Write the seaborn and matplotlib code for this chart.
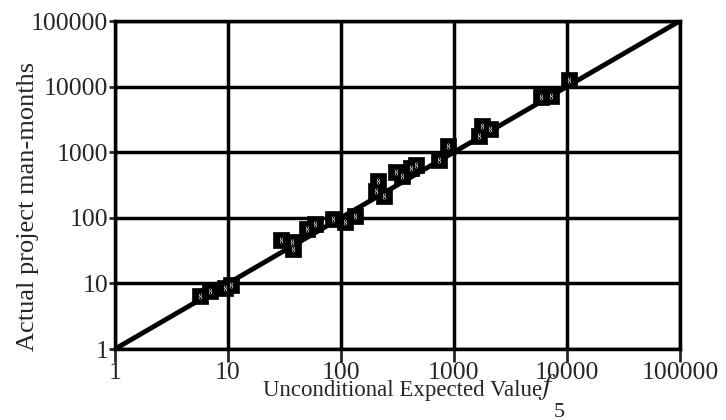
import numpy as np
import pandas as pd
import seaborn as sns
import matplotlib.pyplot as plt
from matplotlib.ticker import FixedLocator, NullLocator

# data
expected = [5.6, 7.0, 9.5, 10.6,
            29.5, 37, 38, 50, 59, 85, 108, 133,
            211, 204, 242, 308, 348, 419, 464, 735, 878,
            1780, 1668, 2100, 5900, 7200, 10500]
actual = [6.5, 7.6, 8.6, 9.3,
          46, 43, 34, 68, 81, 97, 86, 108,
          360, 255, 215, 508, 438, 571, 640, 760, 1230,
          2530, 1795, 2260, 7000, 7100, 12500]
line_x = [1, 100000]
line_y = [1, 100000]
ticks = [1, 10, 100, 1000, 10000, 100000]
tick_labels = ["1", "10", "100", "1000", "10000", "100000"]

df = pd.DataFrame({"expected": expected, "actual": actual})
df_line = pd.DataFrame({"x": line_x, "y": line_y})

sns.set_style("white")
plt.rcParams['font.family'] = ['Liberation Serif', 'DejaVu Serif']
plt.rcParams['mathtext.fontset'] = 'stix'

fig = plt.figure(figsize=(7.26, 4.2), dpi=100)
ax = fig.add_axes([0.1584, 0.169, 0.778, 0.781])

# diagonal line
sns.lineplot(data=df_line, x="x", y="y", color="black", linewidth=3.5, ax=ax, zorder=3)

# projects
sns.scatterplot(data=df, x="expected", y="actual", marker="s", s=135,
                color="black", edgecolor="black", linewidth=0.5, ax=ax, zorder=4)
sns.scatterplot(data=df, x="expected", y="actual", marker="$8$", s=18,
                color="white", edgecolor="white", linewidth=0, ax=ax, zorder=5)

ax.set_xscale("log")
ax.set_yscale("log")
ax.set_xlim(1, 100000)
ax.set_ylim(1, 100000)

ax.xaxis.set_major_locator(FixedLocator(ticks))
ax.yaxis.set_major_locator(FixedLocator(ticks))
ax.xaxis.set_minor_locator(NullLocator())
ax.yaxis.set_minor_locator(NullLocator())
ax.set_xticklabels(tick_labels, fontsize=18.5)
ax.set_yticklabels(tick_labels, fontsize=18.5)
ax.tick_params(axis="x", direction="out", length=9, width=2, pad=0, bottom=True)
ax.tick_params(axis="y", direction="out", length=4, width=2, pad=1, left=True)

ax.grid(True, which="major", color="black", linewidth=2.5)
for sp in ax.spines.values():
    sp.set_color("black")
    sp.set_linewidth(2.5)

ax.set_ylabel("Actual project man-months", fontsize=19)
ax.yaxis.set_label_coords(-0.135, 0.436)
ax.set_xlabel("Unconditional Expected Value", fontsize=16.5)
ax.xaxis.set_label_coords(0.51, -0.093)

# f_5 drawn beside the label, as in the reference
fig.text(0.741, 0.062, r"$f$", fontsize=21, ha="left", va="baseline")
fig.text(0.762, 0.006, "5", fontsize=16, ha="left", va="baseline")
fig.text(0.474, -0.018, "(b)", fontsize=16, ha="center", va="top")

fig.savefig("out.png", dpi=100)
